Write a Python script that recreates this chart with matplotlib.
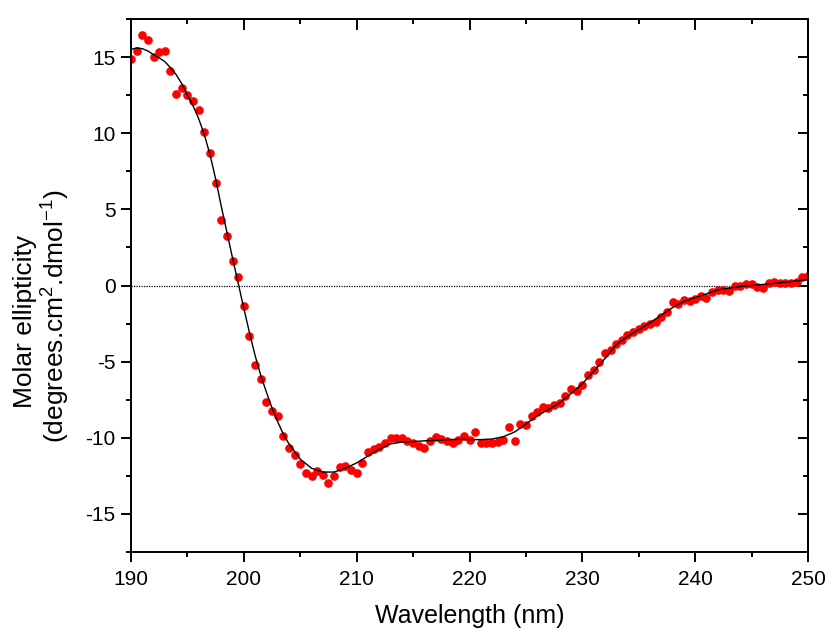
import numpy as np
import matplotlib
matplotlib.use('Agg')
import matplotlib.pyplot as plt
from matplotlib.ticker import MultipleLocator

# CD spectrum, measured every 0.5 nm from 190 to 250 nm
wavelength = np.arange(190, 250.5, 0.5)
ellipticity = [
    14.85, 15.4, 16.45, 16.1, 15.0, 15.35, 15.4, 14.1, 12.6, 13.0,
    12.5, 12.1, 11.5, 10.07, 8.73, 6.75, 4.28, 3.25, 1.64, 0.59,
    -1.32, -3.31, -5.23, -6.17, -7.65, -8.25, -8.58, -9.89, -10.64, -11.16,
    -11.71, -12.3, -12.54, -12.17, -12.46, -12.98, -12.54, -11.95, -11.84, -12.13,
    -12.33, -11.68, -10.91, -10.72, -10.6, -10.37, -10.04, -10.04, -10.02, -10.2,
    -10.37, -10.53, -10.68, -10.2, -9.93, -10.11, -10.24, -10.31, -10.13, -9.87,
    -10.15, -9.63, -10.31, -10.37, -10.31, -10.26, -10.15, -9.32, -10.24, -9.1,
    -9.19, -8.58, -8.31, -8.0, -8.06, -7.86, -7.7, -7.28, -6.8, -6.9,
    -6.53, -5.88, -5.55, -5.04, -4.45, -4.23, -3.84, -3.57, -3.22, -3.07,
    -2.85, -2.63, -2.52, -2.37, -2.08, -1.71, -1.07, -1.2, -0.93, -1.05,
    -0.9, -0.7, -0.81, -0.44, -0.28, -0.28, -0.33, -0.05, 0.0, 0.07,
    0.07, -0.07, -0.15, 0.18, 0.24, 0.18, 0.18, 0.18, 0.26, 0.55,
    0.61,
]

# fitted curve
fit_wl = [
    190, 190.5, 191, 191.5, 192, 192.5, 193, 193.5, 194, 194.5,
    195, 195.5, 196, 196.5, 197, 197.5, 198, 198.5, 199, 199.5,
    200, 200.5, 201, 201.5, 202, 202.5, 203, 203.5, 204, 205,
    206, 207, 208, 209, 210, 211, 212, 213, 214, 215,
    216, 217, 218, 219, 220, 221, 222, 223, 224, 225,
    226, 227, 228, 229, 230, 231, 232, 233, 234, 235,
    236, 237, 238, 239, 240, 241, 242, 243, 244, 245,
    246, 247, 248, 249, 250,
]
fit_val = [
    15.5, 15.6, 15.55, 15.4, 15.15, 14.95, 14.7, 14.3, 13.85, 13.25,
    12.5, 11.8, 10.95, 9.9, 8.6, 7.0, 5.2, 3.5, 1.8, 0.15,
    -1.5, -3.1, -4.6, -5.9, -7.0, -8.05, -8.95, -9.75, -10.4, -11.4,
    -12.0, -12.25, -12.25, -12.0, -11.65, -11.2, -10.75, -10.4, -10.28, -10.25,
    -10.2, -10.17, -10.13, -10.1, -10.12, -10.12, -10.08, -9.93, -9.62, -9.1,
    -8.55, -8.15, -7.7, -7.1, -6.45, -5.65, -4.8, -3.9, -3.35, -2.9,
    -2.45, -1.95, -1.45, -1.05, -0.8, -0.55, -0.3, -0.17, -0.07, 0.0,
    0.07, 0.14, 0.22, 0.3, 0.38,
]

plt.rcParams['font.family'] = ['Liberation Sans', 'DejaVu Sans']
plt.rcParams['mathtext.fontset'] = 'custom'
plt.rcParams['mathtext.rm'] = 'Liberation Sans'
plt.rcParams['mathtext.it'] = 'Liberation Sans:italic'
plt.rcParams['axes.unicode_minus'] = False

fig = plt.figure(figsize=(8.27, 6.30), dpi=100)
ax = fig.add_axes([131 / 827, 78 / 630, 677 / 827, 533 / 630])

ax.axhline(0, color='black', lw=0.9, ls=(0, (1, 1)), zorder=1)
ax.plot(wavelength, ellipticity, 'o', color='red', mec='red', ms=5.2, zorder=2)
ax.plot(fit_wl, fit_val, color='black', lw=1.0, zorder=3)

ax.set_xlim(190, 250)
ax.set_ylim(-17.5, 17.5)
ax.xaxis.set_major_locator(MultipleLocator(10))
ax.xaxis.set_minor_locator(MultipleLocator(5))
ax.yaxis.set_major_locator(MultipleLocator(5))
ax.yaxis.set_minor_locator(MultipleLocator(2.5))

for s in ax.spines.values():
    s.set_linewidth(1.4)
ax.tick_params(which='both', direction='out', width=1.4, labelsize=15, pad=4)
ax.tick_params(axis='x', pad=6)
ax.tick_params(which='major', length=7)
ax.tick_params(which='minor', length=3.5)

# mirrored ticks pointing inward on top and right
top = ax.secondary_xaxis('top')
top.xaxis.set_major_locator(MultipleLocator(10))
top.xaxis.set_minor_locator(MultipleLocator(5))
top.tick_params(which='both', direction='in', width=1.4, labeltop=False)
top.tick_params(which='major', length=8)
top.tick_params(which='minor', length=3.5)
top.spines['top'].set_linewidth(1.4)

right = ax.secondary_yaxis('right')
right.yaxis.set_major_locator(MultipleLocator(5))
right.yaxis.set_minor_locator(MultipleLocator(2.5))
right.tick_params(which='both', direction='in', width=1.4, labelright=False)
right.tick_params(which='major', length=7)
right.tick_params(which='minor', length=3.5)
right.spines['right'].set_linewidth(1.4)

fig.text(469.5 / 827, 1 - 604 / 630, 'Wavelength (nm)', ha='center', va='top', fontsize=18)
fig.text(25 / 827, 0.4905, 'Molar ellipticity', rotation=90,
         ha='center', va='center', fontsize=19)
fig.text(56 / 827, 0.4976, r'(degrees.cm$^{2}$.dmol$^{-1}$)', rotation=90,
         ha='center', va='center', fontsize=19)

fig.savefig('out.png', dpi=100)
